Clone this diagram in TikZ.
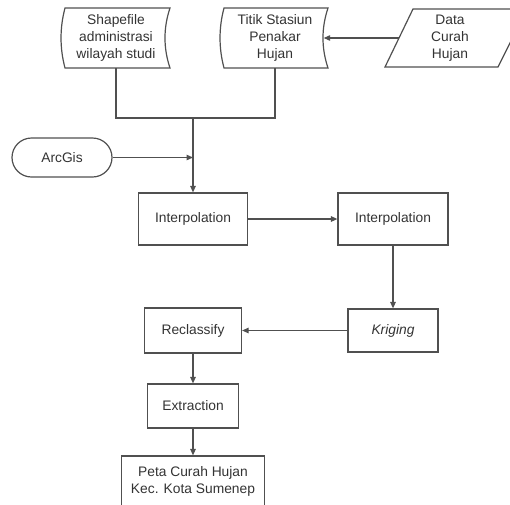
\documentclass[tikz,border=0pt]{standalone}
\usepackage{fontspec}
\setmainfont{Liberation Sans}
\usetikzlibrary{arrows.meta}
\definecolor{ln}{HTML}{505050}
\definecolor{tx}{HTML}{333333}
\begin{document}
\begin{tikzpicture}[x=1pt,y=-1pt,
  font=\fontsize{13.8}{17}\selectfont,
  every node/.style={text=tx, align=center, inner sep=0pt},
  ghost/.style={draw=none},
  proc/.style={draw=ln, line width=1.2pt, rectangle},
  conn/.style={draw=ln, line width=1.2pt},
  arr/.style={conn, -{Triangle[length=6.5pt,width=5.5pt]}},
  shapeline/.style={draw=ln, line width=1.2pt, line join=miter}]
\useasboundingbox (0,0) rectangle (510,504);
\clip (0,0) rectangle (510,504);

% data-store shapes
\draw[shapeline] (65,8) -- (170,8) .. controls (163.3,28) and (163.3,48) .. (170,68)
  -- (65,68) .. controls (59.7,48) and (59.7,28) .. (65,8) -- cycle;
\draw[shapeline] (224,8) -- (328,8) .. controls (321.3,28) and (321.3,48) .. (328,68)
  -- (224,68) .. controls (218.7,48) and (218.7,28) .. (224,8) -- cycle;
% input parallelogram
\draw[shapeline] (413,9) -- (527,9) -- (498,67) -- (385,67) -- cycle;

\node[ghost, minimum width=105pt, minimum height=60pt] (shp) at (116,38) {Shapefile\\administrasi\\wilayah studi};
\node[ghost, minimum width=104pt, minimum height=60pt] (tit) at (275,38) {Titik Stasiun\\Penakar\\Hujan};
\node[ghost, minimum width=102pt, minimum height=58pt] (data) at (450,38) {Data\\Curah\\Hujan};
\node[proc, rounded corners=19.5pt, minimum width=100pt, minimum height=39pt] (arc) at (62,157.5) {ArcGis};

\node[proc, minimum width=109pt, minimum height=52pt] (int1) at (193,219) {Interpolation};
\node[proc, minimum width=110pt, minimum height=52pt] (int2) at (393,219) {Interpolation};
\node[proc, minimum width=90pt, minimum height=43pt] (krig) at (393,330.5) {\itshape Kriging};
\node[proc, minimum width=97pt, minimum height=45pt] (rec) at (193,330.5) {Reclassify};
\node[proc, minimum width=91pt, minimum height=44pt] (ext) at (193,406) {Extraction};
\node[proc, minimum width=143pt, minimum height=51pt] (peta) at (193,481.5) {Peta Curah Hujan\\Kec. Kota Sumenep};

\coordinate (j) at (193,118);
\draw[arr] (data.west) -- ([xshift=-3.5pt]tit.east);
\draw[conn] (shp.south) |- (j) -| (tit.south);
\draw[arr] (j) -- (int1.north);
\draw[arr] (arc.east) -- (arc.east -| j);
\draw[arr] (int1.east) -- (int2.west);
\draw[arr] (int2.south) -- (krig.north);
\draw[arr] (krig.west) -- (rec.east);
\draw[arr] (rec.south) -- (ext.north);
\draw[arr] (ext.south) -- (peta.north);
\end{tikzpicture}
\end{document}
